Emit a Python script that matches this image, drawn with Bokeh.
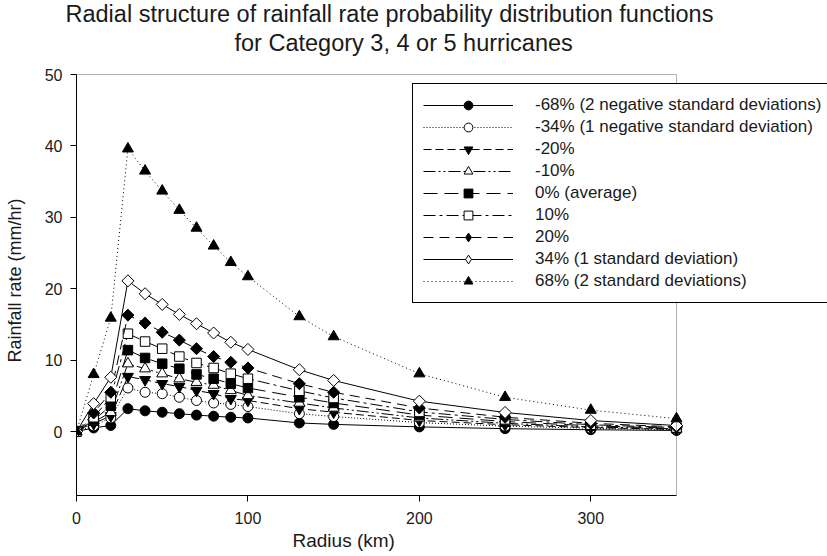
from bokeh.plotting import figure
from bokeh.models import Range1d, FixedTicker, Legend, LegendItem, BoxAnnotation, Title
from bokeh.embed import file_html
from bokeh.resources import INLINE

radius = [0, 10, 20, 30, 40, 50, 60, 70, 80, 90, 100, 130, 150, 200, 250, 300, 350]

s_m68 = [0, 0.5, 0.85, 3.2, 2.9, 2.7, 2.5, 2.3, 2.15, 2.0, 1.9, 1.2, 1.0, 0.65, 0.4, 0.25, 0.15]
s_m34 = [0, 0.8, 1.9, 6.1, 5.5, 5.3, 4.8, 4.35, 4.0, 3.8, 3.5, 2.5, 2.1, 1.25, 0.75, 0.45, 0.25]
s_m20 = [0, 1.1, 2.2, 7.7, 7.25, 6.7, 6.3, 5.75, 5.3, 4.6, 4.35, 3.2, 2.7, 1.55, 0.95, 0.55, 0.3]
s_m10 = [0, 1.3, 2.7, 9.5, 8.8, 8.1, 7.4, 6.9, 6.5, 5.75, 5.05, 4.0, 3.3, 1.9, 1.15, 0.65, 0.37]
s_avg = [0, 1.6, 3.6, 11.4, 10.3, 9.5, 8.8, 8.0, 7.4, 6.7, 6.1, 4.8, 4.0, 2.3, 1.4, 0.8, 0.45]
s_p10 = [0, 2.0, 4.8, 13.7, 12.6, 11.6, 10.5, 9.6, 8.9, 8.1, 7.4, 5.7, 4.7, 2.75, 1.7, 0.95, 0.55]
s_p20 = [0, 2.6, 5.5, 16.3, 15.2, 13.9, 12.8, 11.6, 10.5, 9.7, 8.9, 6.7, 5.5, 3.3, 2.0, 1.15, 0.65]
s_p34 = [0, 3.9, 7.6, 21.1, 19.3, 17.8, 16.4, 15.1, 13.8, 12.5, 11.5, 8.65, 7.15, 4.25, 2.67, 1.54, 0.84]
s_p68 = [0, 8.0, 15.9, 39.6, 36.5, 33.7, 31.0, 28.5, 26.0, 23.7, 21.7, 16.1, 13.3, 8.1, 4.8, 3.0, 1.8]

labels = [
    "-68% (2 negative standard deviations)",
    "-34% (1 negative standard deviation)",
    "-20%",
    "-10%",
    "0% (average)",
    "10%",
    "20%",
    "34% (1 standard deviation)",
    "68% (2 standard deviations)",
]
series = [s_m68, s_m34, s_m20, s_m10, s_avg, s_p10, s_p20, s_p34, s_p68]

title_line1 = "Radial  structure of rainfall rate probability distribution functions"
title_line2 = "for Category 3, 4 or 5 hurricanes"
x_label = "Radius (km)"
y_label = "Rainfall rate (mm/hr)"

x_ticks = [0, 100, 200, 300]
y_ticks = [0, 10, 20, 30, 40, 50]
x_min, x_max = 0, 350
y_min, y_max = -8.96, 50

# style: (plot marker, legend marker, filled, size, angle, dash)
ROT = 0.785398
styles = [
    ("circle", "circle", True, 10, 0, "solid"),
    ("circle", "circle", False, 10, 0, "1 2"),
    ("inverted_triangle", "inverted_triangle", True, 11, 0, "8 4"),
    ("triangle", "triangle", False, 11, 0, "12 3 2 3 2 3"),
    ("square", "square", True, 9.5, 0, "14 7"),
    ("square", "square", False, 9.5, 0, "12 4 3 4"),
    ("square", "diamond", True, 8.5, ROT, "10 6"),
    ("square", "diamond", False, 8.5, ROT, "solid"),
    ("triangle", "triangle", True, 11, 0, "1 3"),
]

FONT = "Liberation Sans"
TXT = "#1a1a1a"

W, H = 827, 556
LEFT, TOP, BOTTOM = 76, 65, 61
px_per_x = 600 / (x_max - x_min)       # 0..350 km spans 600 px
px_per_y = 357 / (y_max - 0)           # 0..50 mm/hr spans 357 px
frame_w = W - LEFT
frame_h = H - TOP - BOTTOM
x_end = x_min + frame_w / px_per_x
y_end = y_min + frame_h / px_per_y

p = figure(
    width=W, height=H,
    x_range=Range1d(x_min, x_end), y_range=Range1d(y_min, y_end),
    output_backend="svg", toolbar_location=None,
    min_border_left=LEFT, min_border_right=0,
    min_border_top=TOP, min_border_bottom=BOTTOM,
)

# title: line 1 is the figure title (outer), line 2 sits next to the frame
p.title.text = title_line1
p.title.align = "left"
p.title.offset = -11
p.title.vertical_align = "bottom"
p.title.standoff = -18
p.title.text_font = FONT
p.title.text_font_size = "23.5px"
p.title.text_font_style = "normal"
p.title.text_color = TXT
t2 = Title(text=title_line2, align="left", offset=158, vertical_align="bottom",
           standoff=20, text_font=FONT, text_font_size="23.5px",
           text_font_style="normal", text_color=TXT)
p.add_layout(t2, "above")

p.grid.visible = False
p.outline_line_color = None
p.background_fill_color = "white"
p.border_fill_color = "white"

for ax in (p.xaxis[0], p.yaxis[0]):
    ax.minor_tick_line_color = None
    ax.major_tick_in = 0
    ax.major_tick_out = 6
    ax.axis_line_color = "black"
    ax.major_tick_line_color = "black"
    ax.major_label_text_font = FONT
    ax.major_label_text_font_size = "16px"
    ax.major_label_text_color = TXT
    ax.axis_label_text_font = FONT
    ax.axis_label_text_font_style = "normal"
    ax.axis_label_text_color = TXT

p.xaxis.ticker = FixedTicker(ticks=x_ticks)
p.yaxis.ticker = FixedTicker(ticks=y_ticks)
p.xaxis.bounds = (x_min, x_max)
p.yaxis.bounds = (y_min, y_max)
p.yaxis.axis_label = y_label
p.yaxis.axis_label_text_font_size = "18px"
p.xaxis.major_label_standoff = 10
p.yaxis.major_label_standoff = 8
p.yaxis.axis_label_standoff = 17

# x axis title placed under the tick labels
tx = Title(text=x_label, align="left", offset=216, vertical_align="bottom", standoff=2,
           text_font=FONT, text_font_size="19px", text_font_style="normal", text_color=TXT)
p.add_layout(tx, "below")

# plot frame (top and right edges)
p.add_layout(BoxAnnotation(left=x_min, right=x_max, top=y_max,
                           fill_alpha=0, line_color="black", line_width=1))

NAN = float("nan")
items = []
for lab, ys, (mk, lmk, filled, sz, ang, dash) in zip(labels, series, styles):
    fill = "black" if filled else "white"
    ln = p.line(radius, ys, line_color="black", line_width=1, line_dash=dash)
    sc = p.scatter(radius, ys, marker=mk, size=sz, angle=ang, line_color="black",
                   line_width=1, fill_color=fill)
    if lmk != mk:
        # legend swatch only (nothing drawn in the plot): upright diamond symbol
        key = p.scatter([NAN], [NAN], marker=lmk, size=sz, line_color="black",
                        line_width=1, fill_color=fill)
        items.append(LegendItem(label=lab, renderers=[ln, key]))
    else:
        items.append(LegendItem(label=lab, renderers=[ln, sc]))

legend = Legend(
    items=items,
    location=(336, 192),
    glyph_width=90, glyph_height=22, label_height=22,
    label_standoff=22, spacing=0, padding=10,
    label_text_font=FONT, label_text_font_size="17px",
    label_text_color=TXT,
    border_line_color="black", border_line_width=1, border_line_alpha=1,
    background_fill_color="white", background_fill_alpha=1,
)
p.add_layout(legend, "center")

open("out.html", "w").write(file_html(p, INLINE))
